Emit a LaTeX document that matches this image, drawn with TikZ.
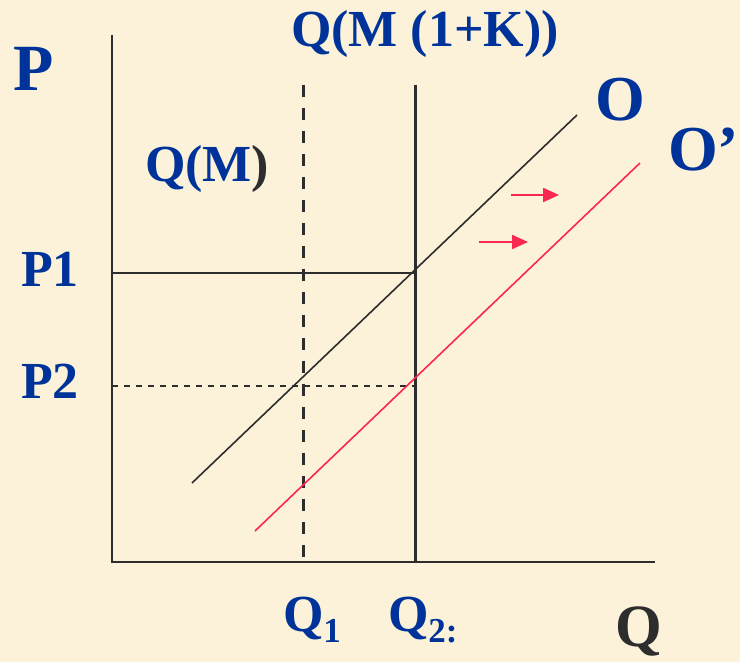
\documentclass[tikz,border=0pt]{standalone}
\usepackage{fontspec}
\setmainfont{Liberation Serif}
\usetikzlibrary{arrows.meta}
\definecolor{bgc}{RGB}{252,242,218}
\definecolor{lblue}{RGB}{0,51,153}
\definecolor{dk}{RGB}{45,45,45}
\definecolor{rd}{RGB}{250,40,80}
\tikzset{
  lbl/.style={anchor=base west, inner sep=0pt, outer sep=0pt, text=lblue, font=\bfseries\fontsize{26}{26}\selectfont},
  biglbl/.style={lbl, font=\bfseries\fontsize{33}{33}\selectfont},
  axisline/.style={draw=dk, line width=1pt},
  thinline/.style={draw=dk, line width=0.75pt},
  thickv/.style={draw=dk, line width=1.5pt},
  vdash/.style={thickv, dash pattern=on 6pt off 5.5pt},
  hdash/.style={thinline, dash pattern=on 3pt off 3pt},
  shiftarrow/.style={draw=rd, line width=1.1pt, -{Triangle[length=8pt,width=7pt]}},
  curve/.style={line width=0.8pt}
}
\newcommand{\subq}[1]{\raisebox{-5.5pt}{\fontsize{17.5}{17.5}\selectfont #1}}
\begin{document}
\begin{tikzpicture}[x=0.5pt,y=-0.5pt]
\clip (0,0) rectangle (740,662);
\fill[bgc] (0,0) rectangle (740,662);
% coordinates
\coordinate (origin) at (112,562);
\coordinate (ytop) at (112,35);
\coordinate (xend) at (655,562);
\coordinate (q1top) at (303,85);
\coordinate (q1bot) at (303,562);
\coordinate (q2top) at (415,85);
\coordinate (q2bot) at (415,562);
\coordinate (p1l) at (112,273);
\coordinate (p1r) at (415,273);
\coordinate (p2l) at (112,386);
\coordinate (p2r) at (415,386);
\coordinate (oa) at (192,483);
\coordinate (ob) at (577,115);
\coordinate (ra) at (255,531);
\coordinate (rb) at (640,163);
\coordinate (a1s) at (511,195);
\coordinate (a1e) at (559,195);
\coordinate (a2s) at (479,242);
\coordinate (a2e) at (528,242);
% axes
\draw[axisline] (ytop) -- (origin) -- (xend);
% verticals
\draw[vdash] (q1top) -- (q1bot);
\draw[thickv] (q2top) -- (q2bot);
% price lines
\draw[thinline] (p1l) -- (p1r);
\draw[hdash] (p2l) -- (p2r);
% curves
\draw[curve, draw=dk] (oa) -- (ob);
\draw[curve, draw=rd] (ra) -- (rb);
% shift arrows
\draw[shiftarrow] (a1s) -- (a1e);
\draw[shiftarrow] (a2s) -- (a2e);
% labels
\node[biglbl] (lp) at (13,91) {P};
\node[lbl] (lqmk) at (291,47) {Q(M (1+K))};
\node[lbl] (lqm) at (145,182) {Q(M\textcolor{dk}{)}};
\node[lbl] (lp1) at (21,287) {P1};
\node[lbl] (lp2) at (21,399) {P2};
\node[lbl, font=\bfseries\fontsize{32}{32}\selectfont] (lo) at (595,121) {O};
\node[lbl, font=\bfseries\fontsize{32}{32}\selectfont] (lo2) at (668,171) {O’};
\node[lbl] (lq1) at (283,632) {Q\subq{1}};
\node[lbl] (lq2) at (388,632) {Q\subq{2:}};
\node[lbl, text=dk, font=\bfseries\fontsize{30}{30}\selectfont] (lq) at (615,647) {Q};
\end{tikzpicture}
\end{document}
